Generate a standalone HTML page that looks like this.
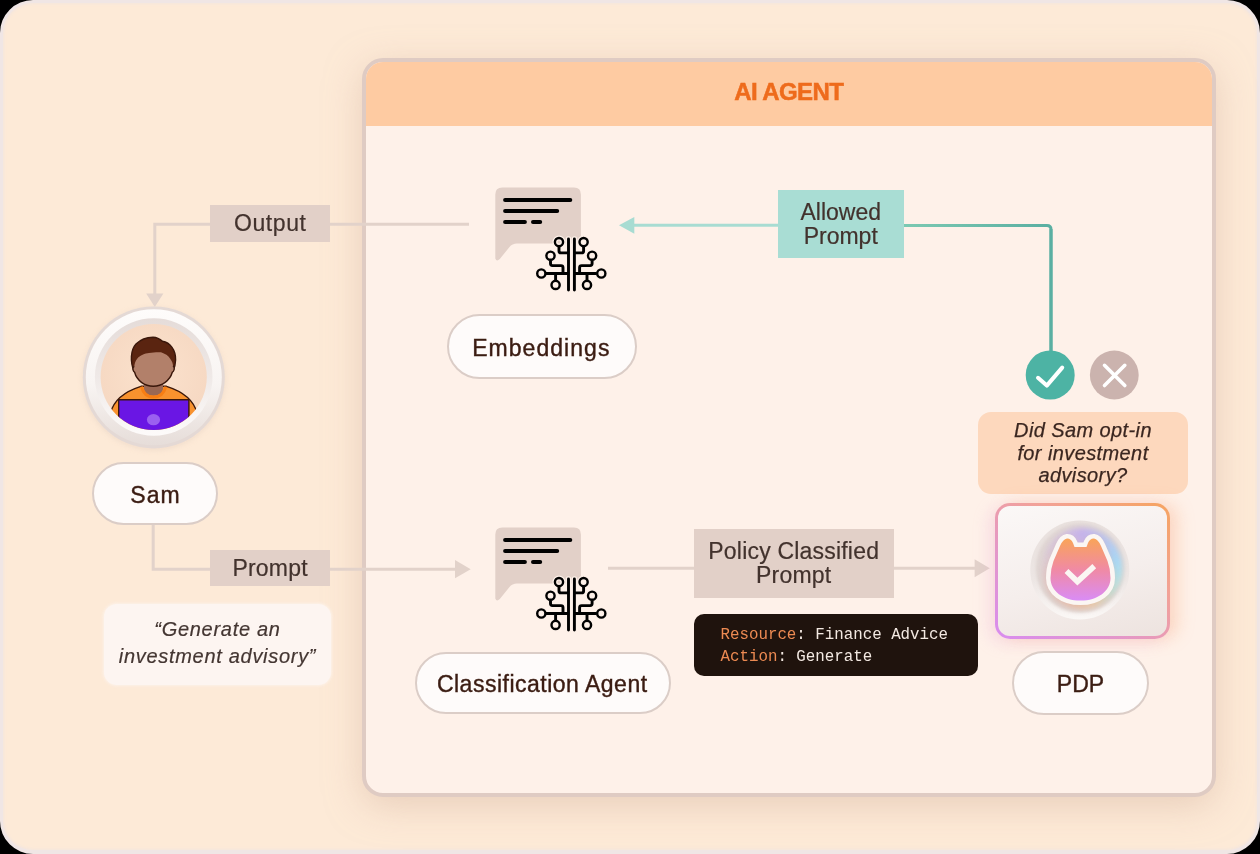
<!DOCTYPE html>
<html><head><meta charset="utf-8">
<style>
*{margin:0;padding:0;box-sizing:border-box}
html,body{width:1260px;height:854px;background:#000;overflow:hidden}
body{position:relative;font-family:"Liberation Sans",sans-serif}
.pill,.lbl,#hdr span,.t{will-change:transform}
.abs{position:absolute}
#outer{left:0;top:0;width:1260px;height:854px;border-radius:33px;background:#fdead7;border:3px solid #f0e6e5;border-bottom-width:4px;box-shadow:inset 0 0 3px 1px #f4e6de}
#cont{left:362px;top:58px;width:853.5px;height:739px;border:4px solid #dfcbc3;border-radius:21px;background:#fef1e9;overflow:hidden;box-shadow:0 9px 36px -1px rgba(214,178,158,.5)}
#hdr{left:0;top:0;width:100%;height:63.5px;background:#fecba2}
#hdr span{position:absolute;left:0;right:0;top:15.5px;text-align:center;font-weight:bold;font-size:24px;color:#ee6b1c;letter-spacing:-0.6px;-webkit-text-stroke:0.5px #ee6b1c}
.pill{position:absolute;background:#fefbfa;border:2.8px solid #dbcdc7;border-radius:40px;color:#3b1c12;font-size:23px;-webkit-text-stroke:0.4px #3b1c12;text-align:center;display:flex;align-items:center;justify-content:center}
.lbl{position:absolute;background:#e2d0c8;color:#42322d;-webkit-text-stroke:0.2px #42322d;font-size:23px;text-align:center;display:flex;align-items:center;justify-content:center;line-height:24px}
.teal{background:#a9ddd4}
.ital{font-style:italic}
svg{position:absolute;left:0;top:0}
</style></head><body>
<div id="outer" class="abs"></div>
<div id="cont" class="abs"><div id="hdr" class="abs"><span>AI AGENT</span></div></div>

<!-- lines -->
<svg width="1260" height="854" viewBox="0 0 1260 854">
<defs>
<linearGradient id="tg" x1="903" y1="0" x2="1052" y2="0" gradientUnits="userSpaceOnUse">
<stop offset="0" stop-color="#7cc9b2"/><stop offset="1" stop-color="#5aafa2"/></linearGradient>
</defs>
<g fill="none" stroke="#e2d2ca" stroke-width="3">
<path d="M469 224.3H154.8V294"/>
<path d="M153.2 525V569.3H456"/>
<path d="M608 568.3H976"/>
</g>
<g fill="#e2d2ca">
<path d="M146.2 293.5H163.4L154.8 307Z"/>
<path d="M455 560L470.7 569.3L455 578.3Z"/>
<path d="M974.6 559.3L989.8 568.3L974.6 577.3Z"/>
</g>
<path d="M633 225.3H778" stroke="#a8dcd2" stroke-width="3" fill="none"/>
<path d="M634.3 216.9L619 225.3L634.3 233.7Z" fill="#a8dcd2"/>
<path d="M903 225.5H1047Q1051 225.5 1051 229.5V352" stroke="url(#tg)" stroke-width="3" fill="none"/>
<path d="M1051 229V352" stroke="#5aafa2" stroke-width="3" fill="none"/>
</svg>


<svg width="1260" height="854" viewBox="0 0 1260 854">
<defs>
<g id="ic">
<path d="M502.3 187.6H574Q580.9 187.6 580.9 194.5V236.5Q580.9 243.5 574 243.5H517Q512.3 243.5 509.3 247.2L499.8 259Q496.6 262.2 495.3 258.5V194.5Q495.3 187.6 502.3 187.6Z" fill="#e2d0c8"/>
<g stroke="#000" stroke-width="4" stroke-linecap="round" fill="none">
<path d="M505.1 200.1H570.3M505.1 211H557.2M505.1 222H524.9M533 222H540.2"/>
</g>
<g stroke="#fdf0e8" stroke-width="5.5" fill="none" stroke-linecap="butt" stroke-linejoin="round">
<path d="M568.5 239V290M574.4 239V290" stroke-linecap="round"/>
<circle cx="559" cy="242.1" r="4.1" stroke-width="5.0"/><circle cx="583.6" cy="242.1" r="4.1" stroke-width="5.0"/><circle cx="550.5" cy="255.7" r="4.1" stroke-width="5.0"/><circle cx="592.1" cy="255.7" r="4.1" stroke-width="5.0"/><circle cx="541.3" cy="273.5" r="4.1" stroke-width="5.0"/><circle cx="601.3" cy="273.5" r="4.1" stroke-width="5.0"/><circle cx="555.6" cy="284.9" r="4.1" stroke-width="5.0"/><circle cx="587" cy="284.9" r="4.1" stroke-width="5.0"/>
<path d="M559 247V251Q559 252.9 561 252.9H568.5"/>
<path d="M583.6 247V251Q583.6 252.9 581.6 252.9H574.4"/>
<path d="M550.5 260.6V263.6Q550.5 265.6 552.5 265.6H561Q563 265.6 563 267.6V273.5"/>
<path d="M592.1 260.6V263.6Q592.1 265.6 590.1 265.6H581.6Q579.6 265.6 579.6 267.6V273.5"/>
<path d="M545.8 273.5H568.5M574.4 273.5H596.8"/>
<path d="M555.6 273.5V280.4M587 273.5V280.4"/>
</g>
<g stroke="#000" stroke-width="2.9" fill="none" stroke-linecap="butt" stroke-linejoin="round">
<path d="M568.5 239V290M574.4 239V290" stroke-linecap="round"/>
<circle cx="559" cy="242.1" r="4.1" stroke-width="2.4"/><circle cx="583.6" cy="242.1" r="4.1" stroke-width="2.4"/><circle cx="550.5" cy="255.7" r="4.1" stroke-width="2.4"/><circle cx="592.1" cy="255.7" r="4.1" stroke-width="2.4"/><circle cx="541.3" cy="273.5" r="4.1" stroke-width="2.4"/><circle cx="601.3" cy="273.5" r="4.1" stroke-width="2.4"/><circle cx="555.6" cy="284.9" r="4.1" stroke-width="2.4"/><circle cx="587" cy="284.9" r="4.1" stroke-width="2.4"/>
<path d="M559 247V251Q559 252.9 561 252.9H568.5"/>
<path d="M583.6 247V251Q583.6 252.9 581.6 252.9H574.4"/>
<path d="M550.5 260.6V263.6Q550.5 265.6 552.5 265.6H561Q563 265.6 563 267.6V273.5"/>
<path d="M592.1 260.6V263.6Q592.1 265.6 590.1 265.6H581.6Q579.6 265.6 579.6 267.6V273.5"/>
<path d="M545.8 273.5H568.5M574.4 273.5H596.8"/>
<path d="M555.6 273.5V280.4M587 273.5V280.4"/>
</g>
</g>
</defs>
<use href="#ic"/>
<use href="#ic" transform="translate(0,340)"/>
</svg>


<!-- avatar -->
<svg width="1260" height="854" viewBox="0 0 1260 854">
<defs>
<linearGradient id="ringo" x1="0" y1="0" x2="0" y2="1">
<stop offset="0" stop-color="#fefcfb"/><stop offset="0.55" stop-color="#f8f4f2"/><stop offset="1" stop-color="#e6ddd9"/></linearGradient>
<linearGradient id="ringi" x1="0" y1="0" x2="0" y2="1">
<stop offset="0" stop-color="#e5dcd9"/><stop offset="0.5" stop-color="#efe9e7"/><stop offset="1" stop-color="#fdfbfa"/></linearGradient>
<radialGradient id="peach" cx="0.5" cy="0.45" r="0.55">
<stop offset="0" stop-color="#fbe2cd"/><stop offset="1" stop-color="#f6d8c2"/></radialGradient>
<clipPath id="av"><circle cx="153.7" cy="377" r="53"/></clipPath>
<filter id="avsh" x="-20%" y="-20%" width="140%" height="140%"><feGaussianBlur stdDeviation="2.5"/></filter>
</defs>
<circle cx="153.7" cy="379" r="71.5" fill="#e8d3c4" opacity=".5" filter="url(#avsh)"/>
<circle cx="153.8" cy="377.4" r="71" fill="#e4d9d5"/>
<circle cx="153.8" cy="377.3" r="68" fill="url(#ringo)"/>
<circle cx="153.7" cy="377" r="58.8" fill="url(#ringi)"/>
<circle cx="153.7" cy="377" r="53.1" fill="url(#peach)"/>
<g clip-path="url(#av)" stroke="#3a170b" stroke-width="1.4">
<path d="M110.5 413Q115 394.5 141 386.3H166.5Q192.5 394.5 197 413V440H110.5Z" fill="#f8922e"/>
<path d="M144 378V389Q144.5 395.5 153.5 395.8Q162.5 395.5 163 389V378Z" fill="#9a6854" stroke="none"/>
<path d="M141.5 386.6Q144 397 153.5 397Q163 397 165.8 386.6" fill="none" stroke="#f77e14" stroke-width="3"/>
<path d="M134 371C130 362 130.5 350 136 344C141 339 147 337.2 153 337.2C157 337.3 160 339 162.5 341.3C170 342.5 176 350 175.6 360C175.5 364 174.5 368 173 371Z" fill="#5a2410"/>
<path d="M137 359C140 355 145 353.5 149 353C153 352.3 158 352 161 352.3C165 353.5 168.5 356 170 358.5C172 361 173 363.5 173 366C175 367 174.5 371 172.3 372.3C170 380.5 162 386.2 153.3 386.2C144.5 386.2 136.8 380.5 134.6 372.3C132.4 371 132.4 367 134.3 366.3C134.6 363.5 135.5 361 137 359Z" fill="#b2806a" stroke="none"/>
<path d="M134.3 366.3C132.4 367 132.4 371 134.6 372.3C136.8 380.5 144.5 386.2 153.3 386.2C162 386.2 170 380.5 172.3 372.3C174.5 371 175 367 173 366" fill="none"/>
<path d="M118.7 399.7H188.9V440H118.7Z" fill="#6a16e4"/>
<ellipse cx="153.5" cy="419.7" rx="6.6" ry="5.6" fill="#9b60f0" stroke="none"/>
</g>
</svg>

<!-- check / x -->
<svg width="1260" height="854" viewBox="0 0 1260 854">
<circle cx="1050.2" cy="375" r="24.5" fill="#4db3a4"/>
<path d="M1038 377.8L1046.8 385.6L1062.2 367.6" stroke="#fff" stroke-width="4" fill="none" stroke-linecap="round" stroke-linejoin="round"/>
<circle cx="1114.3" cy="375" r="24.4" fill="#cbb3ae"/>
<path d="M1104.5 365.3L1124.8 385.6M1124.8 365.3L1104.5 385.6" stroke="#fff" stroke-width="3.6" fill="none" stroke-linecap="round"/>
</svg>

<div class="abs t" style="left:978px;top:412px;width:210px;height:81.5px;border-radius:13px;background:#fdd8bd;color:#3a2620;-webkit-text-stroke:0.25px #3a2620;font-size:20px;letter-spacing:0.4px;font-style:italic;text-align:center;line-height:22.6px;padding-top:7px">Did Sam opt-in<br>for investment<br>advisory?</div>

<div class="abs t" style="left:103.5px;top:604px;width:227px;height:80.5px;border-radius:13px;background:#fdf5f1;box-shadow:0 0 3px 1px rgba(253,243,236,.9);color:#443632;-webkit-text-stroke:0.2px #443632;font-size:20px;letter-spacing:0.7px;font-style:italic;text-align:center;line-height:26.3px;padding-top:12.4px">“Generate an<br>investment advisory”</div>

<div class="abs t" style="left:694px;top:614px;width:284px;height:61.5px;border-radius:10px;background:#1f130d;font-family:'Liberation Mono',monospace;font-size:15.8px;line-height:22.3px;color:#f3e9e2;padding:9.8px 0 0 26.5px;white-space:pre"><span style="color:#ec8a52">Resource</span>: Finance Advice
<span style="color:#ec8a52">Action</span>: Generate</div>


<!-- PDP card -->
<div class="abs" style="left:994.5px;top:503px;width:175px;height:135.5px;border-radius:15px;padding:3px;background:linear-gradient(215deg,#f6a460 0%,#f2a296 35%,#e497c8 65%,#d88cf0 100%);box-shadow:8px 0 16px 0 rgba(250,175,130,.35),-6px 4px 16px 0 rgba(235,170,220,.28)">
<div style="width:100%;height:100%;border-radius:12px;background:linear-gradient(165deg,#fbf8f7 0%,#f5eeec 55%,#ede3df 100%)"></div>
</div>
<svg width="1260" height="854" viewBox="0 0 1260 854">
<defs>
<linearGradient id="diskg" x1="0" y1="0" x2="0" y2="1"><stop offset="0" stop-color="#e8e0dd"/><stop offset="0.6" stop-color="#ede6e4"/><stop offset="1" stop-color="#fbf8f6"/></linearGradient>
<filter id="bl2" x="-30%" y="-30%" width="160%" height="160%"><feGaussianBlur stdDeviation="1.5"/></filter>
</defs>
<circle cx="1079.8" cy="570" r="49.5" fill="url(#diskg)"/>
<circle cx="1080.3" cy="568.3" r="44.5" fill="#e0d6d3" filter="url(#bl2)"/>
</svg>
<div class="abs" style="left:1042px;top:528px;width:80px;height:80px;border-radius:50%;background:conic-gradient(from 0deg,#c6b2ea 0deg,#b4c6f0 45deg,#a6d8f6 80deg,#b2f0e2 130deg,#f4d6a2 160deg,#f5bf9c 190deg,#e6c8c4 230deg,#dccbd2 280deg,#d2c0e0 330deg,#c6b2ea 360deg);filter:blur(2.5px)"></div>
<svg width="1260" height="854" viewBox="0 0 1260 854">
<defs>
<linearGradient id="cat" x1="0" y1="0" x2="0" y2="1">
<stop offset="0" stop-color="#f9a458"/><stop offset="0.5" stop-color="#f08aa4"/><stop offset="1" stop-color="#d98cf6"/></linearGradient>
<filter id="bl" x="-30%" y="-30%" width="160%" height="160%"><feGaussianBlur stdDeviation="3"/></filter>
</defs>
<path d="M1067 538.5Q1071 538.3 1073 543L1074.5 547H1086.5L1088 543Q1090 538.3 1094 538.5Q1098 539 1101 546L1107.5 561Q1110.5 569 1110.5 578C1110.5 591 1098 600.6 1080.5 600.6C1063 600.6 1050.5 591 1050.5 578Q1050.5 569 1053.5 561L1060 546Q1063 539 1067 538.5Z" fill="#d9b8ae" stroke="#d9b8ae" stroke-width="10" stroke-linejoin="round" filter="url(#bl)" opacity=".55" transform="translate(0,3)"/>
<path d="M1067 538.5Q1071 538.3 1073 543L1074.5 547H1086.5L1088 543Q1090 538.3 1094 538.5Q1098 539 1101 546L1107.5 561Q1110.5 569 1110.5 578C1110.5 591 1098 600.6 1080.5 600.6C1063 600.6 1050.5 591 1050.5 578Q1050.5 569 1053.5 561L1060 546Q1063 539 1067 538.5Z" fill="url(#cat)" stroke="#fbf6f3" stroke-width="9" stroke-linejoin="round" paint-order="stroke"/>
<path d="M1068.5 573L1077.4 581.6L1092.2 568" stroke="#fbf6f3" stroke-width="5.6" fill="none" stroke-linecap="square" stroke-linejoin="miter"/>
</svg>

<div class="lbl" style="left:210px;top:205px;width:120px;height:36.5px"><span style="letter-spacing:0.6px;margin-right:-0.6px">Output</span></div>
<div class="lbl" style="left:210px;top:549.5px;width:120px;height:36px"><span style="letter-spacing:0.2px;margin-right:-0.2px">Prompt</span></div>
<div class="lbl teal" style="left:778px;top:190px;width:125.5px;height:68px">Allowed<br>Prompt</div>
<div class="lbl" style="left:694px;top:528.5px;width:199.5px;height:68.5px"><span style="letter-spacing:0.2px">Policy Classified<br>Prompt</span></div>

<div class="pill" style="left:92px;top:462px;width:126px;height:63px"><span style="position:relative;top:1.5px;letter-spacing:1.1px;margin-right:-1.1px">Sam</span></div>
<div class="pill" style="left:447px;top:314px;width:190px;height:65px"><span style="position:relative;top:2px;left:-1.2px;letter-spacing:1.05px;margin-right:-1.05px">Embeddings</span></div>
<div class="pill" style="left:415px;top:652px;width:256px;height:62px"><span style="position:relative;top:1px;left:-1px;letter-spacing:0.5px;margin-right:-0.5px">Classification Agent</span></div>
<div class="pill" style="left:1012px;top:651px;width:137px;height:64px"><span style="position:relative;top:1.5px">PDP</span></div>

</body></html>
